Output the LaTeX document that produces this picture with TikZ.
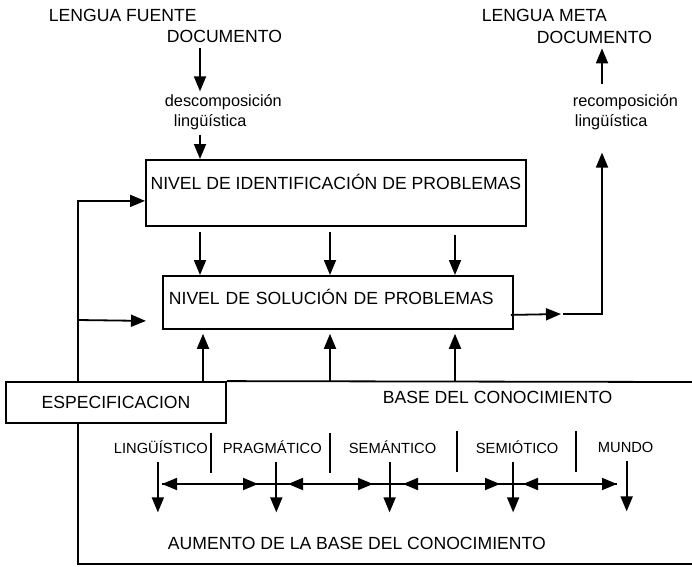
\documentclass[tikz,border=0pt]{standalone}
\usepackage{fontspec}
\setmainfont{Liberation Sans}
\usetikzlibrary{arrows.meta}

\tikzset{
  big/.style={font=\fontsize{17.6}{20}\selectfont},
  lower/.style={font=\fontsize{16.3}{20}\selectfont, align=left},
  kind/.style={font=\fontsize{14.7}{17}\selectfont},
  arr/.style={-{Triangle[length=15pt,width=12pt]}},
  dbl/.style={{Triangle[length=15pt,width=12pt]}-{Triangle[length=15pt,width=12pt]}},
  txt/.style={inner sep=0pt, anchor=base west},
  level/.style={draw, big, inner ysep=0pt, anchor=north west}
}

\begin{document}
\begin{tikzpicture}[x=1pt, y=-1pt, line width=1.8pt]
\useasboundingbox (0,0) rectangle (692,566);

% columns
\coordinate (lc) at (200,0);
\coordinate (mc) at (330,0);
\coordinate (rc) at (455,0);
\coordinate (uc) at (203,0);
\coordinate (oc) at (602,0);
\coordinate (fb) at (78,0);

% source side
\node[txt, big] (srclang) at (48,21.3) {LENGUA FUENTE};
\node[txt, big] (srcdoc) at (166,42.3) {DOCUMENTO};
\node[lower, inner sep=0pt, anchor=west] (descomp) at (164,112) {descomposición\\\hspace{9pt}lingüística};
\draw[arr] ([yshift=-5pt]srcdoc.south -| lc) -- ([yshift=2pt]descomp.north -| lc);

% target side
\node[txt, big] (tgtlang) at (481,21.3) {LENGUA META};
\node[txt, big] (tgtdoc) at (536,43.3) {DOCUMENTO};
\node[lower, inner sep=0pt, anchor=west] (recomp) at (572,112) {recomposición\\\hspace{2pt}lingüística};
\draw[arr] ([yshift=9pt]recomp.north -| oc) -- ([yshift=-4pt]tgtdoc.south -| oc);

% the two levels
\node[level, minimum width=380pt, text height=29.25pt, text depth=36.75pt] (idbox) at (145,159)
  {NIVEL DE IDENTIFICACIÓN DE PROBLEMAS};
\node[level, text width=338pt, inner xsep=6pt, align=left, text height=28.25pt, text depth=24.75pt] (solbox) at (162,275)
  {NIVEL DE SOLUCIÓN DE PROBLEMAS};
\draw[arr] ([yshift=-4pt]descomp.south -| lc) -- (idbox.north -| lc);
\draw[arr] ([yshift=-5pt]idbox.south -| lc) -- (solbox.north -| lc);
\draw[arr] ([yshift=-5pt]idbox.south -| mc) -- (solbox.north -| mc);
\draw[arr] ([yshift=-8pt]idbox.south -| rc) -- (solbox.north -| rc);

% output
\coordinate (gap) at (561,314);
\draw[arr] ([xshift=-3pt,yshift=-12.5pt]solbox.east) -- (gap);
\draw[arr] ([xshift=2pt]gap) -| ([yshift=-22pt]recomp.south -| oc);

% specification and feedback
\node[draw, big, minimum width=220pt, minimum height=41pt, inner sep=0pt] (spec) at (116,402.5) {ESPECIFICACION};
\draw[arr] (spec.north -| fb) |- ([yshift=-8pt]idbox.west);
\draw[arr] (fb |- 0,320) -- ([xshift=-16pt,yshift=-18.5pt]solbox.west);
\draw (spec.south -| fb) -- (fb |- 0,564) -- (692,564);

% knowledge base
\draw (spec.north east) -- (692,382);
\node[txt, big] (kb) at (382,403.3) {BASE DEL CONOCIMIENTO};
\draw[arr] (uc |- spec.north) -- ([yshift=-4pt]solbox.south -| uc);
\draw[arr] (mc |- spec.north) -- ([yshift=-4pt]solbox.south -| mc);
\draw[arr] (rc |- spec.north) -- ([yshift=-4pt]solbox.south -| rc);

\node[txt, kind] (ling) at (113,453.3) {LINGÜÍSTICO};
\node[txt, kind] (prag) at (222,453.3) {PRAGMÁTICO};
\node[txt, kind] (sem) at (348,453.3) {SEMÁNTICO};
\node[txt, kind] (semio) at (475,453.3) {SEMIÓTICO};
\node[txt, kind] (mundo) at (597,452.3) {MUNDO};

\draw (211,433) -- (211,473);
\draw (330,433) -- (330,473);
\draw (457,431) -- (457,472);
\draw (576,431) -- (576,472);

\draw[arr] ([xshift=-3pt,yshift=-8pt]ling.south) -- ++(0,50);
\draw[arr] ([xshift=4pt,yshift=-8pt]prag.south) -- ++(0,50);
\draw[arr] ([xshift=-3pt,yshift=-8pt]sem.south) -- ++(0,50);
\draw[arr] ([xshift=-4pt,yshift=-8pt]semio.south) -- ++(0,50);
\draw[arr] ([xshift=1pt,yshift=-8pt]mundo.south) -- ++(0,50);

\draw (162,484) -- (617,484);
\draw[dbl] (162,484) -- (258,484);
\draw[dbl] (288,484) -- (373,484);
\draw[dbl] (403,484) -- (500,484);
\draw[dbl] (523,484) -- (617,484);

\node[txt, big] (grow) at (167,549) {AUMENTO DE LA BASE DEL CONOCIMIENTO};
\end{tikzpicture}
\end{document}
